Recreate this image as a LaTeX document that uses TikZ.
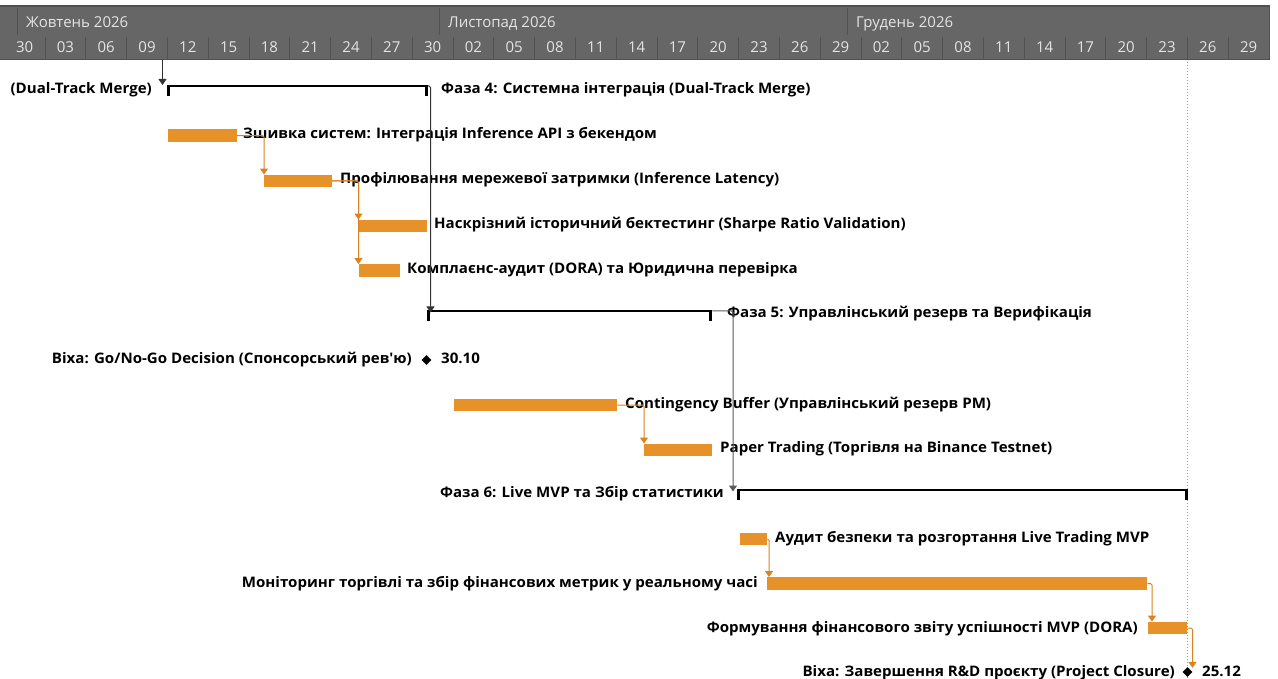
\documentclass[tikz,border=0pt]{standalone}
\usepackage{fontspec}
\newfontfamily\ganttfont{Open Sans}[FakeStretch=1.04]
\newfontfamily\scalefont{Open Sans}
\usetikzlibrary{arrows.meta,shapes.geometric}
\definecolor{hdrbg}{HTML}{666666}
\definecolor{hdredge}{HTML}{4F4F4F}
\definecolor{hdrsep}{HTML}{525252}
\definecolor{hdrtext}{HTML}{E4E4E4}
\definecolor{barfill}{HTML}{E69228}
\definecolor{linkcol}{HTML}{D9821F}
\definecolor{phaselink}{HTML}{333333}
\definecolor{phaselinkb}{HTML}{5A5A5A}
\definecolor{endline}{HTML}{9A9A9A}
\begin{document}
\begin{tikzpicture}[x=1pt,y=-1pt,
  bar/.style={rectangle, fill=barfill, inner sep=0pt, minimum height=12.5pt, anchor=west},
  summ/.style={rectangle, inner sep=0pt, minimum height=10pt, anchor=north west},
  sumtop/.style={draw=black, line width=2pt},
  sumtick/.style={draw=black, line width=3pt},
  ms/.style={diamond, fill=black, inner sep=0pt, minimum size=10pt},
  lbl/.style={font=\ganttfont\bfseries\fontsize{14.5}{16}\selectfont, text=black, inner sep=0pt},
  hdr/.style={font=\scalefont\fontsize{15}{17}\selectfont, text=hdrtext, inner sep=0pt},
  link/.style={draw=linkcol, line width=1pt, rounded corners=1.5pt, -{Triangle[width=8pt,length=6pt]}},
  phlink/.style={draw=phaselink, line width=1pt, -{Triangle[width=8pt,length=6pt]}}
]
\useasboundingbox (0,0) rectangle (1278,679);

% ---------- timescale header ----------
\fill[hdrbg] (0,5) rectangle (1270,60);
\fill[hdredge] (0,5) rectangle (1270,7.5);
\draw[hdredge, line width=1pt] (0,59.5) -- (1270,59.5);
\draw[hdredge, line width=1pt] (1269.5,5) -- (1269.5,60);
\foreach \mx in {17.8,439.4,847.4}
  \draw[hdrsep, line width=1pt] (\mx,8) -- (\mx,35);
\foreach \k in {1,...,30}
  \draw[hdrsep, line width=1pt] ({4.2+40.8*\k},37) -- ({4.2+40.8*\k},60);
\node[hdr, anchor=base west] (mon1) at (26,27.5) {Жовтень 2026};
\node[hdr, anchor=base west] (mon2) at (448,27.5) {Листопад 2026};
\node[hdr, anchor=base west] (mon3) at (856,27.5) {Грудень 2026};
\foreach \lab [count=\k from 0] in {30,03,06,09,12,15,18,21,24,27,30,02,05,08,11,14,17,20,23,26,29,02,05,08,11,14,17,20,23,26,29}
  \node[hdr, anchor=base] (day\k) at ({24.6+40.8*\k},52.5) {\lab};

% ---------- project finish line ----------
\draw[endline, line width=1pt, dash pattern=on 1pt off 2pt] (1187.5,62) -- (1187.5,679);

% ---------- phase 4 ----------
\node[summ, minimum width=260.5pt] (p4) at (167,86) {};
\draw[sumtop] (p4.north west) -- (p4.north east);
\draw[sumtick] ([xshift=1.5pt]p4.north west) -- ([xshift=1.5pt]p4.south west);
\draw[sumtick] ([xshift=-1.5pt]p4.north east) -- ([xshift=-1.5pt]p4.south east);
\node[lbl, anchor=base east] (p4l) at (152,93.5) {(Dual-Track Merge)};
\node[lbl, anchor=base west] (p4r) at (441,93.5) {Фаза 4: Системна інтеграція (Dual-Track Merge)};
\coordinate (hdrin) at (162.5,60);
\draw[phlink] (hdrin) -- (hdrin |- 0,85);

\node[bar, minimum width=68.5pt] (t2) at (168,135.6) {};
\node[lbl, anchor=base west] (t2l) at (243,138.5) {Зшивка систем: Інтеграція Inference API з бекендом};
\node[bar, minimum width=67.5pt] (t3) at (264,181) {};
\node[lbl, anchor=base west] (t3l) at (340,184) {Профілювання мережевої затримки (Inference Latency)};
\node[bar, minimum width=68.5pt] (t4) at (358.5,226) {};
\node[lbl, anchor=base west] (t4l) at (434,228.5) {Наскрізний історичний бектестинг (Sharpe Ratio Validation)};
\node[bar, minimum width=41pt] (t5) at (358.5,270.5) {};
\node[lbl, anchor=base west] (t5l) at (407,273.5) {Комплаєнс-аудит (DORA) та Юридична перевірка};

\draw[link] (t2.east) -| (t3.north west);
\draw[link] (t3.east) -| (t4.north west);
\draw[link] (t3.east) -| (t5.north west);

% ---------- phase 5 ----------
\node[summ, minimum width=285.5pt] (p5) at (426.5,311) {};
\draw[sumtop] (p5.north west) -- (p5.north east);
\draw[sumtick] ([xshift=1.5pt]p5.north west) -- ([xshift=1.5pt]p5.south west);
\draw[sumtick] ([xshift=-1.5pt]p5.north east) -- ([xshift=-1.5pt]p5.south east);
\node[lbl, anchor=base west] (p5l) at (727,318) {Фаза 5: Управлінський резерв та Верифікація};
\draw[phlink, rounded corners=1.5pt] (p4.north east) -| ([xshift=4pt,yshift=-1.5pt]p5.north west);

\node[ms] (m7) at (426.5,360) {};
\node[lbl, anchor=base east] (m7l) at (412,363) {Віха: Go/No-Go Decision (Спонсорський рев'ю)};
\node[lbl, anchor=base west] (m7d) at (441,363) {30.10};

\node[bar, minimum width=163pt] (t8) at (454,405) {};
\node[lbl, anchor=base west] (t8l) at (625,408) {Contingency Buffer (Управлінський резерв PM)};
\node[bar, minimum width=68pt] (t9) at (644,450) {};
\node[lbl, anchor=base west] (t9l) at (720,452.5) {Paper Trading (Торгівля на Binance Testnet)};
\draw[link] (t8.east) -| (t9.north west);

% ---------- phase 6 ----------
\node[summ, minimum width=450.5pt] (p6) at (737,490) {};
\draw[sumtop] (p6.north west) -- (p6.north east);
\draw[sumtick] ([xshift=1.5pt]p6.north west) -- ([xshift=1.5pt]p6.south west);
\draw[sumtick] ([xshift=-1.5pt]p6.north east) -- ([xshift=-1.5pt]p6.south east);
\node[lbl, anchor=base east] (p6l) at (724,497) {Фаза 6: Live MVP та Збір статистики};
\draw[phlink, draw=phaselinkb, rounded corners=1.5pt] (p5.north east) -| ([xshift=-4pt,yshift=-1.5pt]p6.north west);

\node[bar, minimum width=27pt] (t11) at (740,539) {};
\node[lbl, anchor=base west] (t11l) at (775,542) {Аудит безпеки та розгортання Live Trading MVP};
\node[bar, minimum width=380pt] (t12) at (767,583.5) {};
\node[lbl, anchor=base east] (t12l) at (758,587) {Моніторинг торгівлі та збір фінансових метрик у реальному часі};
\node[bar, minimum width=39pt] (t13) at (1148,628) {};
\node[lbl, anchor=base east] (t13l) at (1138,632) {Формування фінансового звіту успішності MVP (DORA)};
\node[ms] (m14) at (1187.5,672) {};
\node[lbl, anchor=base east] (m14l) at (1175,676) {Віха: Завершення R\&D проєкту (Project Closure)};
\node[lbl, anchor=base west] (m14d) at (1202,676) {25.12};

\draw[link] (t11.east) -| ([xshift=2pt]t12.north west);
\draw[link] (t12.east) -| ([xshift=4pt]t13.north west);
\draw[link] (t13.east) -| ([xshift=5pt,yshift=-1pt]m14.north);
\end{tikzpicture}
\end{document}
